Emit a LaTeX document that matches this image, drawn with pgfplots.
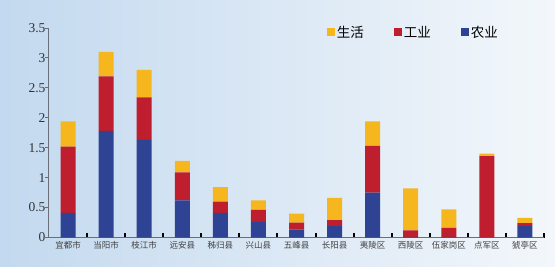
\documentclass[border=0pt]{standalone}
\usepackage{pgfplots}
\pgfplotsset{compat=1.18}
\usepackage{pgfplotstable}
\usepackage{fontspec}
\setmainfont{Liberation Serif}
\newfontfamily\cjk{Noto Sans CJK SC}
\definecolor{cY}{HTML}{F5B61E}
\definecolor{cR}{HTML}{BE1E2D}
\definecolor{cB}{HTML}{2E4394}
\definecolor{bgL}{HTML}{C3D9EF}
\definecolor{bgR}{HTML}{F3F7FB}
\definecolor{axc}{HTML}{6A6E78}
\pgfplotstableread{
x agr ind life
0 0.41 1.11 0.42
1 1.78 0.91 0.41
2 1.63 0.71 0.46
3 0.62 0.47 0.19
4 0.41 0.19 0.24
5 0.26 0.20 0.16
6 0.13 0.12 0.15
7 0.19 0.10 0.37
8 0.75 0.78 0.41
9 0.01 0.11 0.70
10 0.01 0.15 0.31
11 0.00 1.36 0.04
12 0.19 0.05 0.09
}\datatab
\begin{document}
\begin{tikzpicture}
\useasboundingbox (0pt,0pt) rectangle (555pt,266pt);
\shade[left color=bgL, right color=bgR] (0pt,0pt) rectangle (555pt,266pt);
\begin{axis}[
  at={(49pt,28.5pt)}, anchor=south west,
  scale only axis, width=495pt, height=209.5pt,
  ybar stacked, bar width=15pt,
  xmin=-0.5, xmax=12.5, ymin=0, ymax=3.5,
  axis x line*=bottom, axis y line*=left,
  axis line style={axc, line width=1pt},
  xtick={0,...,12},
  xticklabels={宜都市,当阳市,枝江市,远安县,秭归县,兴山县,五峰县,长阳县,夷陵区,西陵区,伍家岗区,点军区,猇亭区},
  x tick label style={font=\cjk\fontsize{8.5}{9}\selectfont, text=black!75},
  xtick style={draw=none},
  minor xtick={0.5,1.5,...,12.5},
  minor x tick style={draw=black, line width=2pt},
  tick align=inside, major tick length=3.5pt, minor tick length=4.5pt,
  ytick={0,0.5,...,3.5},
  y tick label style={font=\fontsize{13.5}{14}\selectfont, text=black!80},
  /pgf/number format/assume math mode=true,
  ytick style={axc, line width=1pt, xshift=-3.5pt},
  reverse legend,
  legend columns=3,
  legend style={draw=none, fill=none, at={(0.555,0.98)}, anchor=west,
    font=\cjk\fontsize{13.5}{14}\selectfont,
    /tikz/every even column/.append style={column sep=28pt}},
  legend image code/.code={\fill[#1] (0pt,-4pt) rectangle (8pt,4pt);},
]
\addplot[fill=cB, draw=none] table[x=x,y=agr]{\datatab};
\addplot[fill=cR, draw=none] table[x=x,y=ind]{\datatab};
\addplot[fill=cY, draw=none] table[x=x,y=life]{\datatab};
\legend{农业,工业,生活}
\end{axis}
\end{tikzpicture}
\end{document}
